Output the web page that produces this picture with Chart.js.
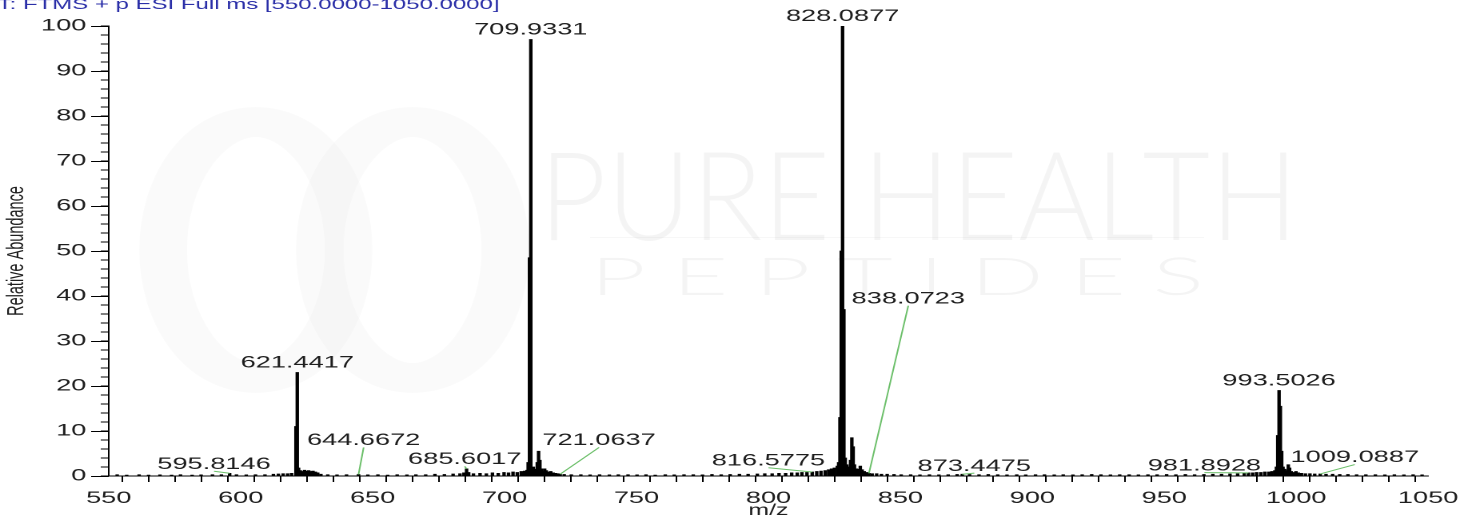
<!DOCTYPE html>
<html>
<head>
<meta charset="utf-8">
<title>FTMS spectrum</title>
<script src="https://cdn.jsdelivr.net/npm/chart.js@4.4.0/dist/chart.umd.min.js"></script>
<style>
  html, body { margin: 0; padding: 0; background: #fff; overflow: hidden; }
  /* the original picture is stretched sideways, so draw narrow and stretch */
  #wrap { width: 918px; height: 520px; transform: scaleX(1.5991); transform-origin: 0 0; }
</style>
</head>
<body>
<div id="wrap"><canvas id="myChart" width="918" height="520"></canvas></div>
<script>
// spectrum sticks: m/z and relative abundance (%)
var mzValues = [
  553.2, 556.8, 561.5, 565.1, 569.4, 573.8, 577.2, 581.6, 585.0, 589.3, 592.7, 595.8146, 598.4,
  602.1, 605.6, 609.2, 612.4, 614.3, 616.1, 617.8, 619.3, 620.94, 621.4417, 621.94,
  622.6, 623.4, 624.2, 625.0, 625.8, 626.6, 627.4, 628.3, 629.2, 630.4,
  633.0, 636.5, 640.1, 644.6672, 648.2, 652.0, 655.7, 659.3, 663.0, 666.4, 670.1, 673.6, 677.2,
  680.5, 683.1, 684.6, 685.6017, 686.4, 688.2, 690.7, 693.1, 695.4, 697.6, 699.8, 701.5, 703.2,
  704.8, 706.3, 707.6, 708.5, 708.93, 709.43, 709.9331, 710.9, 711.6, 712.4, 712.9, 713.4,
  713.9, 714.6, 715.2, 715.8, 716.6, 717.5, 718.4, 719.3, 720.2, 721.0637, 722.6, 725.3,
  728.9, 732.4, 736.0, 739.7, 743.1, 746.8, 750.2, 753.6, 757.1, 760.9, 764.3, 768.0, 771.5,
  775.0, 778.6, 782.1, 785.5, 789.0, 792.3, 795.8, 798.6, 801.4, 804.0, 806.5, 808.8, 810.9,
  812.7, 814.6, 816.5775, 818.3, 819.9, 821.5, 822.8, 823.9, 825.0, 826.1, 826.6, 827.09,
  827.59, 828.0877, 828.59, 829.09, 829.7, 830.4, 831.1, 831.6, 832.1, 832.6, 833.3, 834.2,
  834.8, 835.5, 836.3, 837.2, 838.0723, 839.3, 841.0, 842.8, 845.0, 847.6, 850.3, 853.9,
  857.4, 861.0, 864.6, 868.1, 871.5, 873.4475, 876.2, 879.8, 883.3, 886.9, 890.4, 894.1,
  897.5, 901.2, 904.6, 908.3, 911.7, 915.4, 918.9, 922.5, 926.0, 929.6, 933.1, 936.7, 940.2,
  943.8, 947.3, 950.9, 954.4, 958.0, 961.5, 965.0, 968.4, 971.7, 974.9, 977.8, 980.3,
  981.8928, 983.5, 985.0, 986.6, 988.1, 989.6, 990.8, 991.9, 992.5, 993.0, 993.5026, 994.0,
  994.5, 995.0, 995.6, 996.3, 997.0, 997.5, 998.1, 998.9, 999.9, 1000.8, 1002.0, 1003.5,
  1005.2, 1007.0, 1009.0887, 1011.3, 1013.8, 1016.5, 1019.6, 1022.9, 1026.4, 1030.0, 1033.6,
  1037.2, 1040.8, 1044.3, 1047.7
];
var abundance = [
  0.3, 0.2, 0.3, 0.2, 0.25, 0.2, 0.3, 0.2, 0.25, 0.3, 0.3, 0.6, 0.3,
  0.25, 0.3, 0.3, 0.4, 0.45, 0.5, 0.5, 0.6, 11, 23, 1.8,
  1.2, 1.0, 1.3, 1.1, 1.2, 1.0, 1.1, 0.9, 0.7, 0.4,
  0.3, 0.25, 0.3, 0.35, 0.25, 0.3, 0.2, 0.3, 0.25, 0.3, 0.3, 0.4, 0.35,
  0.45, 0.5, 0.7, 1.6, 0.8, 0.5, 0.6, 0.5, 0.7, 0.6, 0.8, 0.7, 0.9,
  0.8, 1.0, 1.1, 1.3, 3.0, 48.5, 97, 2.0, 1.5, 3.0, 5.5, 3.5,
  1.6, 1.0, 1.6, 1.2, 0.9, 1.0, 0.7, 0.6, 0.5, 0.4, 0.35, 0.3,
  0.3, 0.25, 0.3, 0.25, 0.3, 0.3, 0.25, 0.3, 0.2, 0.3, 0.25, 0.3, 0.3,
  0.25, 0.35, 0.3, 0.35, 0.4, 0.4, 0.45, 0.5, 0.5, 0.6, 0.6, 0.7, 0.7,
  0.8, 0.8, 0.9, 1.0, 1.1, 1.2, 1.4, 1.6, 1.8, 2.2, 3.0, 13,
  50, 100, 37, 4.0, 2.5, 2.0, 3.5, 8.5, 6.5, 2.5, 1.6, 1.5,
  2.2, 1.4, 1.0, 0.8, 0.6, 0.5, 0.5, 0.4, 0.4, 0.35, 0.3, 0.3,
  0.25, 0.3, 0.25, 0.3, 0.35, 0.4, 0.35, 0.3, 0.35, 0.3, 0.25, 0.3,
  0.25, 0.3, 0.3, 0.25, 0.3, 0.25, 0.3, 0.35, 0.3, 0.25, 0.3, 0.3, 0.25,
  0.3, 0.3, 0.35, 0.3, 0.35, 0.3, 0.35, 0.4, 0.4, 0.45, 0.5, 0.6,
  0.7, 0.7, 0.8, 0.8, 0.9, 0.9, 1.0, 1.2, 2.0, 9, 19, 15.5,
  5.5, 2.0, 1.5, 1.2, 2.5, 1.8, 1.0, 0.8, 1.0, 0.7, 0.6, 0.5,
  0.5, 0.45, 0.45, 0.4, 0.4, 0.35, 0.35, 0.3, 0.3, 0.3, 0.25,
  0.3, 0.25, 0.3, 0.25
];

// labelled peaks
var peakLabels = ['595.8146', '621.4417', '644.6672', '685.6017', '709.9331', '721.0637',
  '816.5775', '828.0877', '838.0723', '873.4475', '981.8928', '993.5026', '1009.0887'];
// where the text of each label sits [m/z, abundance]; null = straight above the peak
var labelSpots = [[589.9, 2.6], null, [646.6, 7.9], [684.9, 3.7], null, [735.8, 7.9],
  [800.0, 3.4], null, [853.0, 39.4], [878.0, 2.2], [965.2, 2.3], null, [1022.2, 4.1]];

var yMajor = [0, 10, 20, 30, 40, 50, 60, 70, 80, 90, 100];
var titleText = 'T: FTMS + p ESI Full ms [550.0000-1050.0000]';

var points = mzValues.map(function (m, i) { return { x: m, y: abundance[i] }; });

function heightAt(mz) {
  var i = mzValues.indexOf(mz);
  return i >= 0 ? abundance[i] : 0;
}

var fontName = '"Liberation Sans", Arial, sans-serif';

// faint logo behind the plot
var watermark = {
  id: 'watermark',
  beforeDatasetsDraw: function (chart) {
    var c = chart.ctx;
    c.save();
    c.strokeStyle = 'rgba(0,0,0,0.018)';
    c.lineWidth = 30;
    c.beginPath();
    c.ellipse(160, 250, 58, 128, 0, 0, Math.PI * 2);
    c.stroke();
    c.beginPath();
    c.ellipse(258, 250, 58, 128, 0, 0, Math.PI * 2);
    c.stroke();

    c.fillStyle = 'rgba(0,0,0,0.045)';
    c.font = '300 124px Lato, sans-serif';
    var w = c.measureText('PURE HEALTH').width;
    c.save();
    c.translate(337, 240);
    c.scale(475 / w, 1);
    c.fillText('PURE HEALTH', 0, 0);
    c.restore();

    c.font = '300 52px Lato, sans-serif';
    var w2 = c.measureText('P E P T I D E S').width;
    c.save();
    c.translate(369, 295);
    c.scale(384 / w2, 1);
    c.fillText('P E P T I D E S', 0, 0);
    c.restore();

    c.fillStyle = 'rgba(0,0,0,0.03)';
    c.fillRect(369, 237, 384, 1);
    c.restore();
  }
};

// peak labels, leader lines, long ticks on y, blue scan title
var peakText = {
  id: 'peakText',
  afterDraw: function (chart) {
    var c = chart.ctx;
    var xs = chart.scales.x, ys = chart.scales.y;
    var area = chart.chartArea;
    c.save();

    c.strokeStyle = '#000';
    c.lineWidth = 1;
    yMajor.forEach(function (v) {
      var py = Math.round(ys.getPixelForValue(v)) + 0.5;
      c.beginPath();
      c.moveTo(area.left - 11, py);
      c.lineTo(area.left, py);
      c.stroke();
    });

    c.font = '17px ' + fontName;
    c.fillStyle = '#1e1e1e';
    c.textAlign = 'center';
    for (var i = 0; i < peakLabels.length; i++) {
      var mz = parseFloat(peakLabels[i]);
      var px = xs.getPixelForValue(mz);
      var py = ys.getPixelForValue(heightAt(mz));
      var spot = labelSpots[i];
      if (spot == null) {
        c.textBaseline = 'alphabetic';
        c.fillText(peakLabels[i], px, py - 5);
      } else {
        var lx = xs.getPixelForValue(spot[0]);
        var ly = ys.getPixelForValue(spot[1]);
        c.strokeStyle = '#6cbf6a';
        c.beginPath();
        c.moveTo(lx, ly + 7);
        c.lineTo(px, py);
        c.stroke();
        c.textBaseline = 'middle';
        c.fillText(peakLabels[i], lx, ly);
      }
    }

    c.font = '15px ' + fontName;
    c.fillStyle = '#2b2fa8';
    c.textAlign = 'left';
    c.textBaseline = 'alphabetic';
    c.fillText(titleText, -1.5, 9);
    c.restore();
  }
};

var ctx = document.getElementById('myChart');
var myChart = new Chart(ctx, {
  type: 'bar',
  data: {
    datasets: [
      {
        data: points,
        backgroundColor: '#000',
        borderWidth: 0,
        barThickness: 1.5,
        grouped: false
      }
    ]
  },
  options: {
    responsive: false,
    animation: false,
    devicePixelRatio: 2,
    layout: { padding: { left: 0, right: 20, top: 26, bottom: 0 } },
    plugins: {
      legend: { display: false },
      tooltip: { enabled: false }
    },
    scales: {
      x: {
        type: 'linear',
        min: 550,
        max: 1050,
        offset: false,
        border: { display: true, color: '#000', width: 1 },
        grid: { display: true, drawOnChartArea: false, drawTicks: true, tickLength: 6, color: '#000' },
        ticks: {
          stepSize: 10,
          autoSkip: false,
          maxRotation: 0,
          padding: 6,
          color: '#1e1e1e',
          font: { family: fontName, size: 17 },
          callback: function (v) { return v % 50 === 0 ? v : ''; }
        },
        title: {
          display: true,
          text: 'm/z',
          color: '#1e1e1e',
          font: { family: fontName, size: 15.5 },
          padding: { top: 0, bottom: 0 }
        },
        afterFit: function (s) { s.height = 44; }
      },
      y: {
        min: 0,
        max: 100,
        border: { display: true, color: '#000', width: 1 },
        grid: { display: true, drawOnChartArea: false, drawTicks: true, tickLength: 5, color: '#000' },
        ticks: {
          stepSize: 2,
          autoSkip: false,
          padding: 9,
          color: '#1e1e1e',
          font: { family: fontName, size: 17 },
          callback: function (v) { return v % 10 === 0 ? v : ''; }
        },
        title: {
          display: true,
          text: 'Relative Abundance',
          color: '#1e1e1e',
          font: { family: fontName, size: 14.5 },
          padding: { top: 2, bottom: 0 }
        },
        afterFit: function (s) { s.width = 68; }
      }
    }
  },
  plugins: [watermark, peakText]
});
</script>
</body>
</html>
